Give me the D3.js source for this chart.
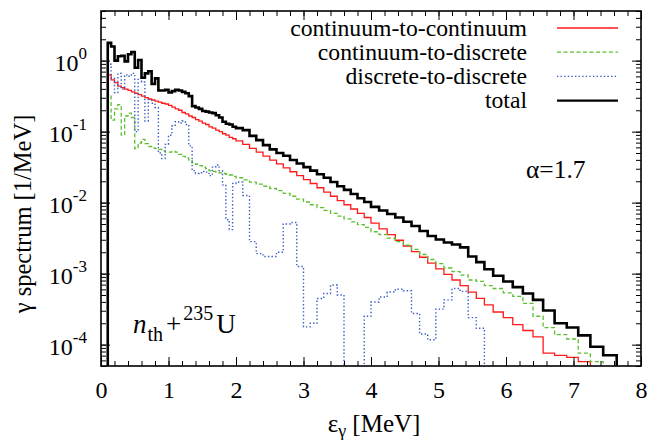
<!DOCTYPE html>
<html>
<head>
<meta charset="utf-8">
<script src="https://cdn.jsdelivr.net/npm/d3@7"></script>
<style>
body { margin: 0; background: #fff; }
svg text { font-family: "Liberation Serif", "Times New Roman", serif; fill: #000; }
</style>
</head>
<body>
<div id="chart"></div>
<script>
var w = 653;
var h = 440;
var plot_left = 101, plot_right = 641, plot_top = 11, plot_bottom = 366;

// bin edges [MeV]
var edges = [0.10, 0.15, 0.20, 0.25, 0.30, 0.35, 0.40, 0.45, 0.50, 0.55,
	0.60, 0.65, 0.70, 0.75, 0.80, 0.85, 0.90, 0.95, 1.00, 1.05,
	1.10, 1.15, 1.20, 1.25, 1.30, 1.35, 1.40, 1.45, 1.50, 1.55,
	1.60, 1.65, 1.70, 1.75, 1.80, 1.85, 1.90, 1.95, 2.00,
	2.1, 2.2, 2.3, 2.4, 2.5, 2.6, 2.7, 2.8, 2.9, 3.0,
	3.1, 3.2, 3.3, 3.4, 3.5, 3.6, 3.7, 3.8, 3.9, 4.0,
	4.12, 4.24, 4.36, 4.48, 4.60, 4.72, 4.84, 4.96, 5.08, 5.20,
	5.32, 5.44, 5.56, 5.68, 5.81, 5.96, 6.10, 6.25, 6.40, 6.55,
	6.72, 6.90, 7.07, 7.25, 7.44, 7.64];

// continuum-to-continuum [1/MeV]
var cont_cont = [0.631, 0.537, 0.490, 0.437, 0.417, 0.398, 0.380, 0.363, 0.347, 0.331,
	0.316, 0.302, 0.288, 0.279, 0.269, 0.260, 0.251, 0.245, 0.234, 0.221,
	0.209, 0.200, 0.186, 0.178, 0.166, 0.158, 0.148, 0.141, 0.132, 0.126,
	0.117, 0.112, 0.105, 0.100, 0.0933, 0.0891, 0.0832, 0.0794,
	0.0741, 0.0661, 0.0582, 0.0513, 0.0452, 0.0398, 0.0351, 0.0309, 0.0272, 0.0240,
	0.0211, 0.0186, 0.0162, 0.0141, 0.0123, 0.0107, 9.33e-3, 8.13e-3, 7.08e-3, 6.17e-3,
	5.13e-3, 4.27e-3, 3.55e-3, 2.95e-3, 2.45e-3, 2.04e-3, 1.70e-3, 1.41e-3, 1.17e-3, 9.77e-4,
	8.13e-4, 6.76e-4, 5.50e-4, 4.47e-4, 3.63e-4, 2.88e-4, 2.40e-4, 1.91e-4, 1.58e-4, 1.29e-4,
	7.59e-5, 7.08e-5, 6.61e-5, 5.75e-5, 0, 0];

// continuum-to-discrete
var cont_disc = [0.316, 0.145, 0.209, 0.240, 0.0891, 0.166, 0.182, 0.158, 0.0575, 0.0692,
	0.0776, 0.0676, 0.0617, 0.0589, 0.0575, 0.0562, 0.0537, 0.0513, 0.0513, 0.0525,
	0.0513, 0.0479, 0.0447, 0.0427, 0.0398, 0.0363, 0.0347, 0.0331, 0.0316, 0.0302,
	0.0282, 0.0275, 0.0269, 0.0263, 0.0257, 0.0251, 0.0245, 0.0234,
	0.0224, 0.0209, 0.0195, 0.0182, 0.0170, 0.0158, 0.0148, 0.0135, 0.0123, 0.0112,
	0.0102, 9.33e-3, 8.51e-3, 7.76e-3, 7.08e-3, 6.46e-3, 5.89e-3, 5.37e-3, 4.90e-3, 4.47e-3,
	3.89e-3, 3.55e-3, 3.16e-3, 2.82e-3, 2.51e-3, 2.19e-3, 1.86e-3, 1.58e-3, 1.38e-3, 1.20e-3,
	1.07e-3, 9.55e-4, 8.13e-4, 7.76e-4, 6.76e-4, 6.17e-4, 5.37e-4, 4.79e-4, 3.80e-4, 2.51e-4,
	1.74e-4, 1.38e-4, 1.20e-4, 7.59e-5, 5.75e-5, 0];

// discrete-to-discrete
var disc_disc = [0.891, 0.562, 0.355, 0.661, 0.398, 0.631, 0.603, 0.661, 0.100, 0.562,
	0.501, 0.141, 0.282, 0.251, 0.219, 0.0501, 0.0417, 0.0661, 0.0891, 0.120,
	0.138, 0.132, 0.141, 0.126, 0.0631, 0.0282, 0.0257, 0.0263, 0.0275, 0.0269,
	0.0240, 0.0316, 0.0339, 0.0282, 0.0178, 5.75e-3, 4.17e-3, 0.0186,
	0.0195, 0.0126, 2.82e-3, 1.91e-3, 1.74e-3, 1.74e-3, 2.00e-3, 5.01e-3, 5.25e-3, 1.26e-3,
	1.78e-4, 2.00e-4, 4.47e-4, 5.25e-4, 6.92e-4, 5.01e-4, 0, 0, 0, 2.51e-4,
	3.98e-4, 4.68e-4, 5.50e-4, 6.03e-4, 5.75e-4, 2.75e-4, 1.41e-4, 1.17e-4, 3.16e-4, 4.27e-4,
	6.17e-4, 5.62e-4, 2.40e-4, 1.70e-4, 0, 0, 0, 0, 0, 0,
	0, 0, 0, 0, 0, 0];

// total
var total = [1.78, 1.58, 1.00, 1.15, 1.17, 0.977, 1.23, 1.32, 0.794, 1.02,
	0.575, 0.661, 0.708, 0.468, 0.562, 0.380, 0.380, 0.389, 0.355, 0.372,
	0.389, 0.380, 0.363, 0.347, 0.316, 0.229, 0.219, 0.209, 0.195, 0.191,
	0.186, 0.182, 0.170, 0.158, 0.138, 0.129, 0.126, 0.117,
	0.112, 0.105, 0.0871, 0.0759, 0.0646, 0.0562, 0.0501, 0.0457, 0.0398, 0.0355,
	0.0316, 0.0282, 0.0251, 0.0224, 0.0195, 0.0170, 0.0151, 0.0132, 0.0115, 0.0102,
	8.71e-3, 7.76e-3, 6.92e-3, 6.17e-3, 5.37e-3, 4.68e-3, 3.98e-3, 3.39e-3, 3.02e-3, 2.75e-3,
	2.57e-3, 2.34e-3, 1.74e-3, 1.45e-3, 1.15e-3, 9.33e-4, 7.76e-4, 6.46e-4, 5.25e-4, 4.27e-4,
	3.02e-4, 2.00e-4, 1.74e-4, 1.35e-4, 9.33e-5, 7.08e-5];

var x_ticks = [0, 1, 2, 3, 4, 5, 6, 7, 8];
var y_ticks = [1e-4, 1e-3, 1e-2, 1e-1, 1];
var series_names = ['continuum-to-continuum', 'continuum-to-discrete', 'discrete-to-discrete', 'total'];

var styles = [
	{color: '#ff1a1a', width: 1.3, dash: null},
	{color: '#5cbf2e', width: 1.3, dash: '4,2.5'},
	{color: '#3a5cc4', width: 1.4, dash: '1.4,2.2'},
	{color: '#000000', width: 2.6, dash: null}
];
var series = [cont_cont, cont_disc, disc_disc, total];

var x_scale = d3.scaleLinear().domain([0, 8]).range([plot_left, plot_right]);
var y_scale = d3.scaleLog().domain([5e-5, 5]).range([plot_bottom, plot_top]);

var svg = d3.select('#chart').append('svg')
	.attr('width', w)
	.attr('height', h);

svg.append('defs').append('clipPath').attr('id', 'clip')
	.append('rect')
	.attr('x', plot_left).attr('y', plot_top)
	.attr('width', plot_right - plot_left).attr('height', plot_bottom - plot_top);

// histograms as step lines
var step_line = d3.line()
	.x(function(d) { return x_scale(d.e); })
	.y(function(d) { return d.v > 0 ? y_scale(d.v) : plot_bottom + 20; })
	.curve(d3.curveStepAfter);

function histPoints(vals) {
	var pts = [{e: edges[0], v: 0}];
	vals.forEach(function(v, i) { pts.push({e: edges[i], v: v}); });
	pts.push({e: edges[vals.length], v: vals[vals.length - 1]});
	pts.push({e: edges[vals.length], v: 0});
	return pts;
}

var plot = svg.append('g').attr('clip-path', 'url(#clip)');
series.forEach(function(vals, i) {
	plot.append('path')
		.datum(histPoints(vals))
		.attr('fill', 'none')
		.attr('stroke', styles[i].color)
		.attr('stroke-width', styles[i].width)
		.attr('stroke-dasharray', styles[i].dash)
		.attr('stroke-linejoin', 'miter')
		.attr('d', step_line);
});

// ticks, mirrored on all sides, pointing inward
function tickAxis(axis, tx, ty) {
	var g = svg.append('g').attr('transform', 'translate(' + tx + ',' + ty + ')').call(axis);
	g.select('.domain').remove();
	g.attr('font-family', null);
	g.selectAll('line').attr('stroke', '#000').attr('stroke-width', 1);
	return g;
}
var x_minor = x_scale.ticks(40);
var y_minor = y_scale.ticks();

tickAxis(d3.axisBottom(x_scale).tickValues(x_minor).tickSize(-5).tickFormat(''), 0, plot_bottom);
tickAxis(d3.axisTop(x_scale).tickValues(x_minor).tickSize(-5).tickFormat(''), 0, plot_top);
tickAxis(d3.axisTop(x_scale).tickValues(x_ticks).tickSize(-9).tickFormat(''), 0, plot_top);
var xg = tickAxis(d3.axisBottom(x_scale).tickValues(x_ticks).tickSize(-9).tickPadding(15).tickFormat(d3.format('d')), 0, plot_bottom);
xg.selectAll('text').style('font-size', '24px');

tickAxis(d3.axisLeft(y_scale).tickValues(y_minor).tickSize(-5).tickFormat(''), plot_left, 0);
tickAxis(d3.axisRight(y_scale).tickValues(y_minor).tickSize(-5).tickFormat(''), plot_right, 0);
tickAxis(d3.axisLeft(y_scale).tickValues(y_ticks).tickSize(-9).tickFormat(''), plot_left, 0);
tickAxis(d3.axisRight(y_scale).tickValues(y_ticks).tickSize(-9).tickFormat(''), plot_right, 0);

// y tick labels 10^n
svg.selectAll('.ylab')
	.data(y_ticks)
	.enter()
	.append('text')
	.attr('class', 'ylab')
	.attr('x', 87)
	.attr('y', function(d) { return y_scale(d) + 10; })
	.attr('text-anchor', 'end')
	.style('font-size', '24px')
	.each(function(d) {
		var t = d3.select(this);
		t.append('tspan').text('10');
		t.append('tspan').attr('dy', -12).style('font-size', '17px')
			.text(String(Math.round(Math.log10(d))));
	});

// frame
svg.append('rect')
	.attr('x', plot_left).attr('y', plot_top)
	.attr('width', plot_right - plot_left).attr('height', plot_bottom - plot_top)
	.attr('fill', 'none').attr('stroke', '#000').attr('stroke-width', 1.6);

// axis titles
svg.append('text')
	.attr('transform', 'translate(31,214) rotate(-90)')
	.attr('text-anchor', 'middle')
	.style('font-size', '24.5px')
	.text('\u03b3 spectrum [1/MeV]');

var xt = svg.append('text')
	.attr('x', 374).attr('y', 432)
	.attr('text-anchor', 'middle')
	.style('font-size', '25px');
xt.append('tspan').text('\u03b5');
xt.append('tspan').attr('dy', 5).style('font-size', '18px').text('\u03b3');
xt.append('tspan').attr('dy', -5).text(' [MeV]');

// legend
var legend = svg.append('g');
series_names.forEach(function(name, i) {
	var yy = 28 + i * 24.2;
	legend.append('text')
		.attr('x', 527).attr('y', yy + 7.5)
		.attr('text-anchor', 'end')
		.style('font-size', '23.7px')
		.text(name);
	legend.append('line')
		.attr('x1', 557).attr('x2', 618)
		.attr('y1', yy).attr('y2', yy)
		.attr('stroke', styles[i].color)
		.attr('stroke-width', i == 3 ? 2.2 : 1.3)
		.attr('stroke-dasharray', styles[i].dash);
});

// annotations
svg.append('text')
	.attr('x', 526).attr('y', 178)
	.style('font-size', '25.5px')
	.text('\u03b1=1.7');

var nt = svg.append('text')
	.attr('x', 133).attr('y', 333)
	.style('font-size', '27px');
nt.append('tspan').style('font-style', 'italic').text('n');
nt.append('tspan').attr('dx', 1).attr('dy', 8).style('font-size', '20px').text('th');
nt.append('tspan').attr('dx', 3).attr('dy', -8).text('+');
nt.append('tspan').attr('dx', 2).attr('dy', -13).style('font-size', '20px').text('235');
nt.append('tspan').attr('dx', 3).attr('dy', 13).text('U');
</script>
</body>
</html>
